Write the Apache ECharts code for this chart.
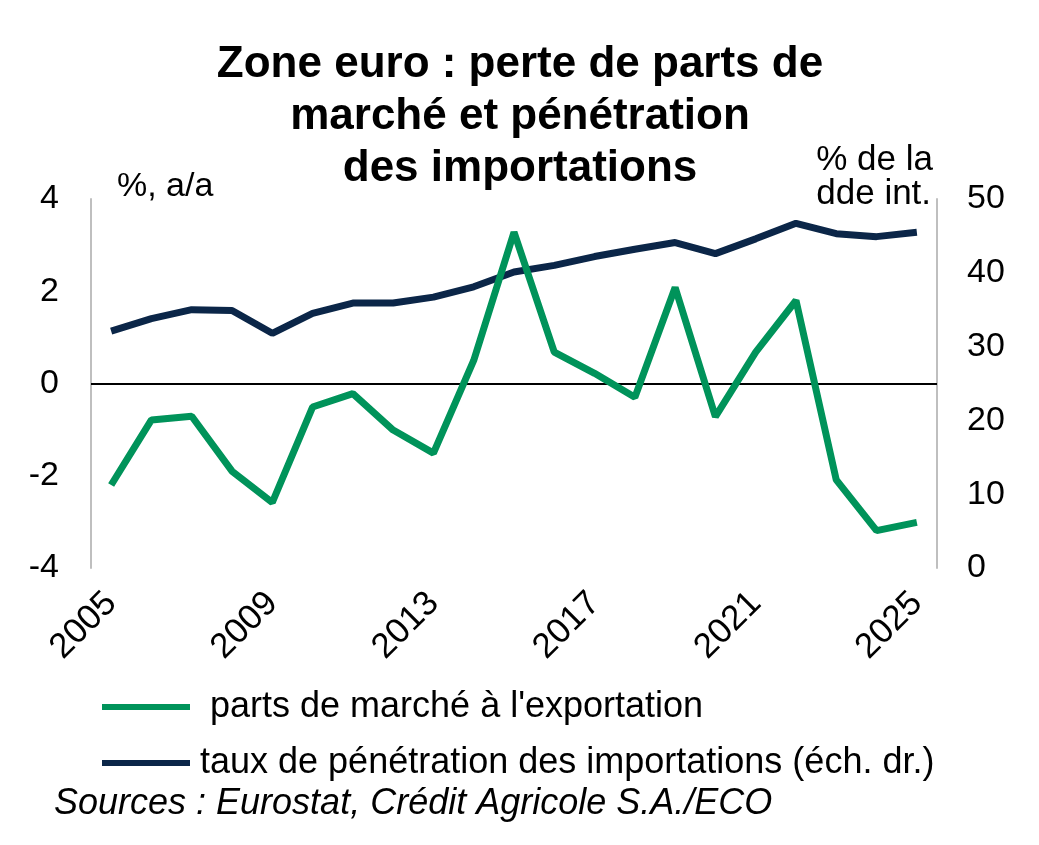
<!DOCTYPE html>
<html><head><meta charset="utf-8">
<script src="https://cdn.jsdelivr.net/npm/echarts@6/dist/echarts.min.js"></script>
<style>html,body{margin:0;padding:0;background:#fff}#c{width:1039px;height:845px}</style>
</head><body><div id="c"></div>
<script>
const years = ['2005','2006','2007','2008','2009','2010','2011','2012','2013','2014','2015','2016','2017','2018','2019','2020','2021','2022','2023','2024','2025'];
const partsMarche = [-2.20,-0.79,-0.71,-1.90,-2.58,-0.51,-0.22,-1.01,-1.51,0.50,3.28,0.68,0.22,-0.30,2.08,-0.72,0.68,1.80,-2.09,-3.19,-3.01];
const tauxPenetration = [32.1,33.8,35.0,34.9,31.8,34.5,35.9,35.9,36.7,38.1,40.1,41.0,42.2,43.2,44.1,42.6,44.6,46.7,45.3,44.9,45.5];
const leftTicks = [-4,-2,0,2,4];
const rightTicks = [0,10,20,30,40,50];
const titleText = 'Zone euro : perte de parts de\nmarché et pénétration\ndes importations';
const nameGreen = "parts de marché à l'exportation";
const nameNavy = 'taux de pénétration des importations (éch. dr.)';
const leftAxisName = '%, a/a';
const rightAxisName = '% de la\ndde int.';
const sourceText = 'Sources : Eurostat, Crédit Agricole S.A./ECO';

const GREEN = '#00935a', NAVY = '#0b2648';
const FONT = '"Liberation Sans", Arial, sans-serif';
const chart = echarts.init(document.getElementById('c'));
chart.setOption({
  animation: false,
  textStyle: {fontFamily: FONT},
  title: {
    text: titleText, left: 520, textAlign: 'center', top: 39, padding: 0,
    textStyle: {fontSize: 44, fontWeight: 'bold', color: '#000', lineHeight: 52, fontFamily: FONT}
  },
  grid: {left: 91, right: 102, top: 199, bottom: 277, containLabel: false},
  legend: {
    orient: 'vertical', left: 97, top: 684, itemGap: 20,
    icon: 'rect', itemWidth: 88, itemHeight: 6,
    textStyle: {fontSize: 36, color: '#000', fontFamily: FONT, lineHeight: 36, padding: [0, 0, 0, 5]},
    formatter: function (n) { return n === nameGreen ? ' ' + n : n; },
    data: [nameGreen, nameNavy]
  },
  xAxis: {
    type: 'category', data: years, boundaryGap: true,
    axisLine: {show: false}, axisTick: {show: false},
    axisLabel: {interval: 3, rotate: 45, fontSize: 35, color: '#000', margin: 30, fontFamily: FONT}
  },
  yAxis: [
    {type: 'value', min: leftTicks[0], max: leftTicks[leftTicks.length-1], interval: 2,
     axisLine: {show: true, lineStyle: {color: '#bfbfbf', width: 2}}, axisTick: {show: false},
     splitLine: {show: false},
     axisLabel: {fontSize: 34, color: '#000', margin: 32, fontFamily: FONT}},
    {type: 'value', min: rightTicks[0], max: rightTicks[rightTicks.length-1], interval: 10,
     axisLine: {show: true, lineStyle: {color: '#bfbfbf', width: 2}}, axisTick: {show: false},
     splitLine: {show: false},
     axisLabel: {fontSize: 34, color: '#000', margin: 30, fontFamily: FONT}}
  ],
  graphic: [
    {type: 'text', left: 117, top: 170, style: {text: leftAxisName, fontSize: 34, lineHeight: 34, fill: '#000', fontFamily: FONT}},
    {type: 'text', right: 106, top: 143, style: {text: rightAxisName, fontSize: 35, fill: '#000', lineHeight: 34, align: 'right', fontFamily: FONT}},
    {type: 'text', left: 54, top: 786, style: {text: sourceText, fontSize: 36, lineHeight: 36, fontStyle: 'italic', fill: '#000', fontFamily: FONT}}
  ],
  series: [
    {name: nameGreen, type: 'line', yAxisIndex: 0, data: partsMarche, showSymbol: false, symbol: 'none',
     lineStyle: {color: GREEN, width: 7}, itemStyle: {color: GREEN}, z: 3,
     markLine: {silent: true, symbol: 'none', label: {show: false},
       lineStyle: {color: '#000', width: 2, type: 'solid'}, data: [{yAxis: 0}], z: 1}},
    {name: nameNavy, type: 'line', yAxisIndex: 1, data: tauxPenetration, showSymbol: false, symbol: 'none',
     lineStyle: {color: NAVY, width: 7}, itemStyle: {color: NAVY}, z: 2}
  ]
});
</script></body></html>
